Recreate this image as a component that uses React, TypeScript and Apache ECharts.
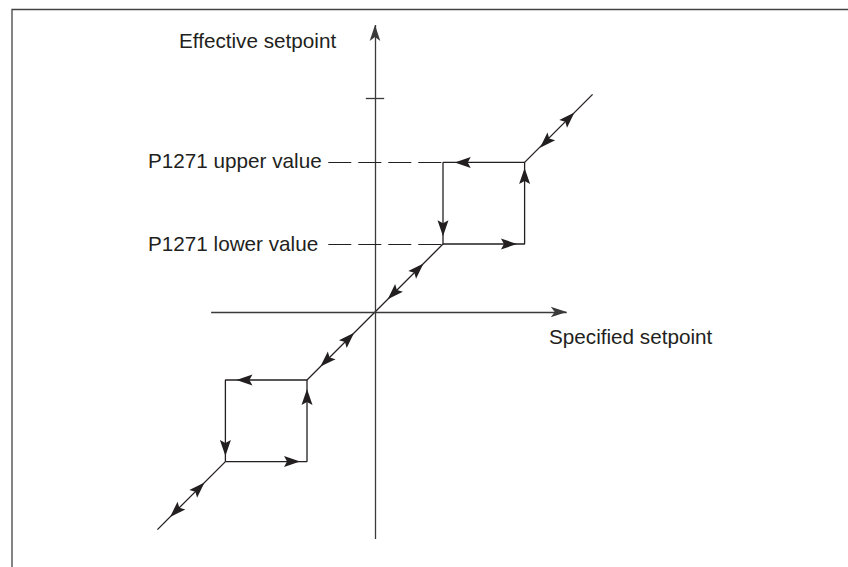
import React, { useEffect, useRef } from "react";
import * as echarts from "echarts";

// Hysteresis (skip band) characteristic, in normalised setpoint units
const lowerValue = 1.0;
const upperValue = 2.2;
const tailEnd = 3.2;
const yTickValue = 3.15;

const lowerTail: number[][] = [[-tailEnd, -tailEnd], [-upperValue, -upperValue]];
const lowerLoop: number[][] = [
  [-upperValue, -upperValue], [-lowerValue, -upperValue], [-lowerValue, -lowerValue],
  [-upperValue, -lowerValue], [-upperValue, -upperValue],
];
const middleLine: number[][] = [[-lowerValue, -lowerValue], [lowerValue, lowerValue]];
const upperLoop: number[][] = [
  [lowerValue, lowerValue], [upperValue, lowerValue], [upperValue, upperValue],
  [lowerValue, upperValue], [lowerValue, lowerValue],
];
const upperTail: number[][] = [[upperValue, upperValue], [tailEnd, tailEnd]];

// direction arrows (centre of arrowhead): [x, y, rotation (deg, counter-clockwise from "up")]
const arrows: number[][] = [
  [2.51, 2.5, 135], [2.85, 2.85, -45],
  [1.29, 2.2, 90], [2.2, 2.0, 0], [1.0, 1.23, 180], [1.97, 1.0, -90],
  [0.63, 0.63, -45], [0.27, 0.27, 135],
  [-0.39, -0.39, -45], [-0.72, -0.72, 135],
  [-1.92, -1.0, 90], [-2.2, -2.0, 180], [-1.22, -2.2, -90], [-1.0, -1.25, 0],
  [-2.59, -2.59, -45], [-2.93, -2.93, 135],
];

const xAxisRange = [-2.41, 2.82];
const yAxisRange = [-3.34, 4.22];
const dashStart = -0.687;

const INK = "#231f20";
const AXIS = "#3a3a3a";
const FONT = "'Liberation Sans', Arial, sans-serif";
const ARROW_PATH = "path://M5,0 L10,16 L5,13 L0,16 Z";

export default function App() {
  const ref = useRef<HTMLDivElement>(null);
  useEffect(() => {
    if (!ref.current) return;
    const chart = echarts.init(ref.current, null, { renderer: "svg" });
    const lineSeries = (name: string, data: number[][]) => ({
      name,
      type: "line",
      data,
      showSymbol: false,
      symbol: "none",
      lineStyle: { color: INK, width: 1.3 },
      silent: true,
      z: 3,
    });
    const label = (text: string, x: number, y: number) => ({
      type: "text",
      x,
      y,
      style: {
        text,
        font: `20.7px ${FONT}`,
        fill: INK,
        textAlign: "left",
        textVerticalAlign: "middle",
      },
    });
    chart.setOption({
      animation: false,
      backgroundColor: "#ffffff",
      grid: { left: 103, top: 6, width: 612, height: 544, containLabel: false },
      xAxis: { type: "value", min: -4, max: 5, show: false },
      yAxis: { type: "value", min: -3.5, max: 4.5, show: false },
      graphic: [
        {
          type: "polyline",
          shape: { points: [[12, 600], [12, 9.5], [860, 9.5]] },
          style: { stroke: "#444", lineWidth: 1.3, fill: "none" },
        },
        label("Effective setpoint", 179, 40.9),
        label("P1271 upper value", 148, 160.6),
        label("P1271 lower value", 148, 243.9),
        label("Specified setpoint", 549, 336.9),
      ],
      series: [
        {
          name: "axes",
          type: "line",
          data: [],
          markLine: {
            silent: true,
            animation: false,
            label: { show: false },
            symbol: ["none", "arrow"],
            symbolSize: [8, 16],
            lineStyle: { color: AXIS, width: 1.3, type: "solid" },
            data: [
              [{ coord: [xAxisRange[0], 0] }, { coord: [xAxisRange[1], 0] }],
              [{ coord: [0, yAxisRange[0]] }, { coord: [0, yAxisRange[1]] }],
              [
                { coord: [-0.135, yTickValue], symbol: "none" },
                { coord: [0.135, yTickValue], symbol: "none" },
              ],
            ],
          },
        },
        {
          name: "limits",
          type: "line",
          data: [],
          markLine: {
            silent: true,
            animation: false,
            label: { show: false },
            symbol: ["none", "none"],
            lineStyle: { color: INK, width: 1.2, type: [23, 7] },
            data: [
              [{ coord: [dashStart, upperValue] }, { coord: [lowerValue, upperValue] }],
              [{ coord: [dashStart, lowerValue] }, { coord: [lowerValue, lowerValue] }],
            ],
          },
        },
        lineSeries("lowerTail", lowerTail),
        lineSeries("lowerLoop", lowerLoop),
        lineSeries("middle", middleLine),
        lineSeries("upperLoop", upperLoop),
        lineSeries("upperTail", upperTail),
        {
          name: "arrows",
          type: "scatter",
          data: arrows.map((a) => ({ value: [a[0], a[1]], symbolRotate: a[2] })),
          symbol: ARROW_PATH,
          symbolSize: [11, 16],
          itemStyle: { color: INK, opacity: 1 },
          silent: true,
          z: 4,
        },
      ],
    });
    return () => chart.dispose();
  }, []);
  return (
    <div
      ref={ref}
      style={{ position: "fixed", left: 0, top: 0, width: 848, height: 567, background: "#fff" }}
    />
  );
}
